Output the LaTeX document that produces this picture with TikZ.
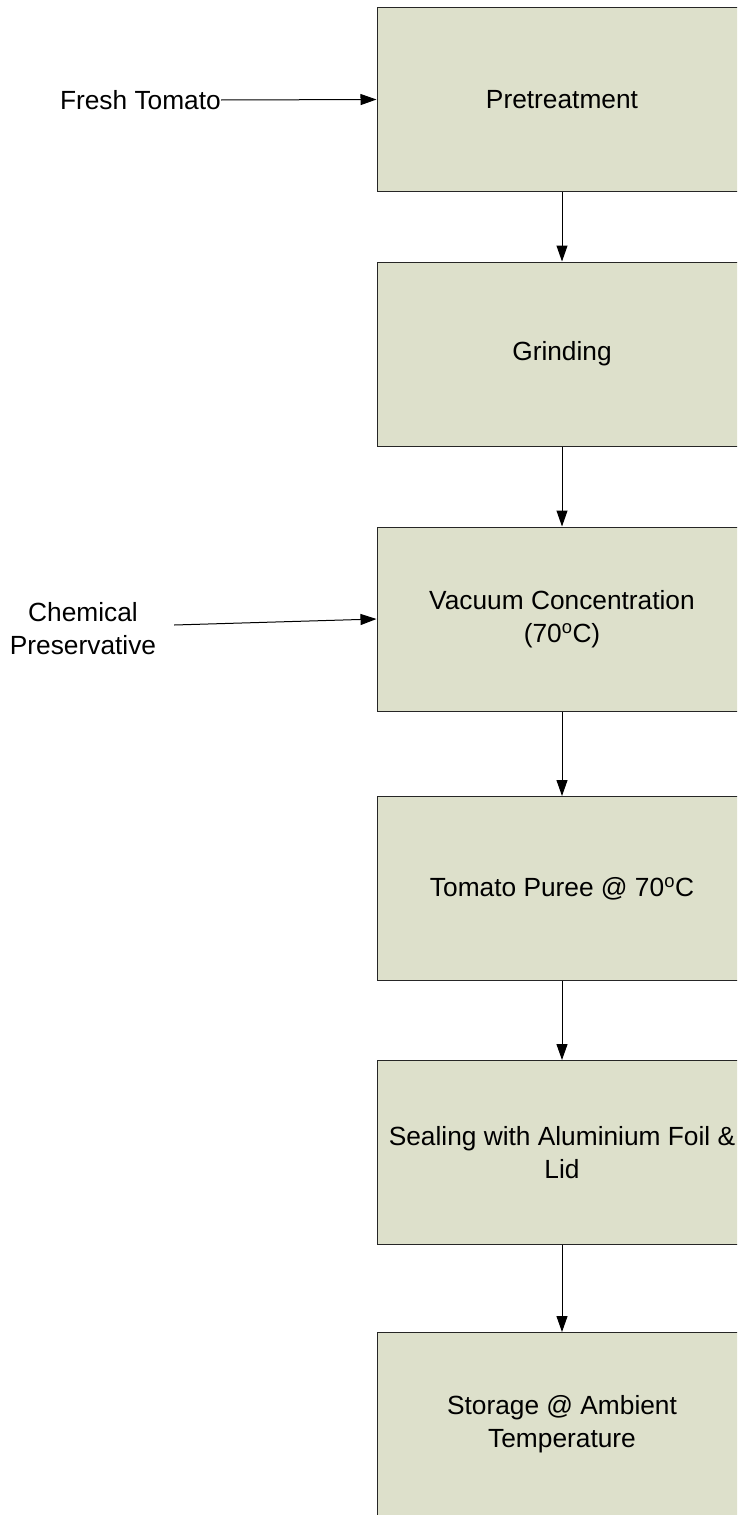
\documentclass[tikz,border=0pt]{standalone}
\usepackage{fontspec}
\setmainfont{Liberation Sans}
\usetikzlibrary{arrows.meta}
\definecolor{boxfill}{RGB}{221,224,203}

\begin{document}
\begin{tikzpicture}[
    x=1pt, y=-1pt,
    font=\fontsize{26.3}{33}\selectfont,
    stage/.style={draw=black!85, line width=1pt, fill=boxfill, rectangle,
        minimum width=370pt, minimum height=184pt, inner sep=0pt, align=center},
    input/.style={inner sep=0pt, align=center},
    flow/.style={-{Triangle[length=16pt, width=11pt]}, line width=1pt, black}
]
    \useasboundingbox (0,0) rectangle (737,1515);
    \clip (0,0) rectangle (737,1515);

    % Process stages
    \node[stage] (s1) at (562, 99.5) {Pretreatment};
    \node[stage] (s2) at (562, 354) {Grinding};
    \node[stage] (s3) at (562, 619) {Vacuum Concentration\\(70\textsuperscript{o}C)};
    \node[stage] (s4) at (562, 888.5) {Tomato Puree @ 70\textsuperscript{o}C};
    \node[stage] (s5) at (562, 1152.5) {Sealing with Aluminium Foil \&\\Lid};
    \node[stage] (s6) at (562, 1424.5) {Storage @ Ambient\\Temperature};

    % Inputs on the left
    \node[input, anchor=east] (tomato) at (221, 100) {Fresh Tomato};
    \node[input, minimum width=182pt] (chem) at (83, 629) {Chemical\\Preservative};

    % Arrows down the line
    \foreach \a/\b in {s1/s2, s2/s3, s3/s4, s4/s5, s5/s6} {
        \draw[flow] (\a) -- (\b);
    }

    % Arrows from the inputs
    \draw[flow] (tomato.east) -- (s1.west);
    \draw[flow] ([yshift=4pt]chem.east) -- (s3.west);

\end{tikzpicture}
\end{document}
